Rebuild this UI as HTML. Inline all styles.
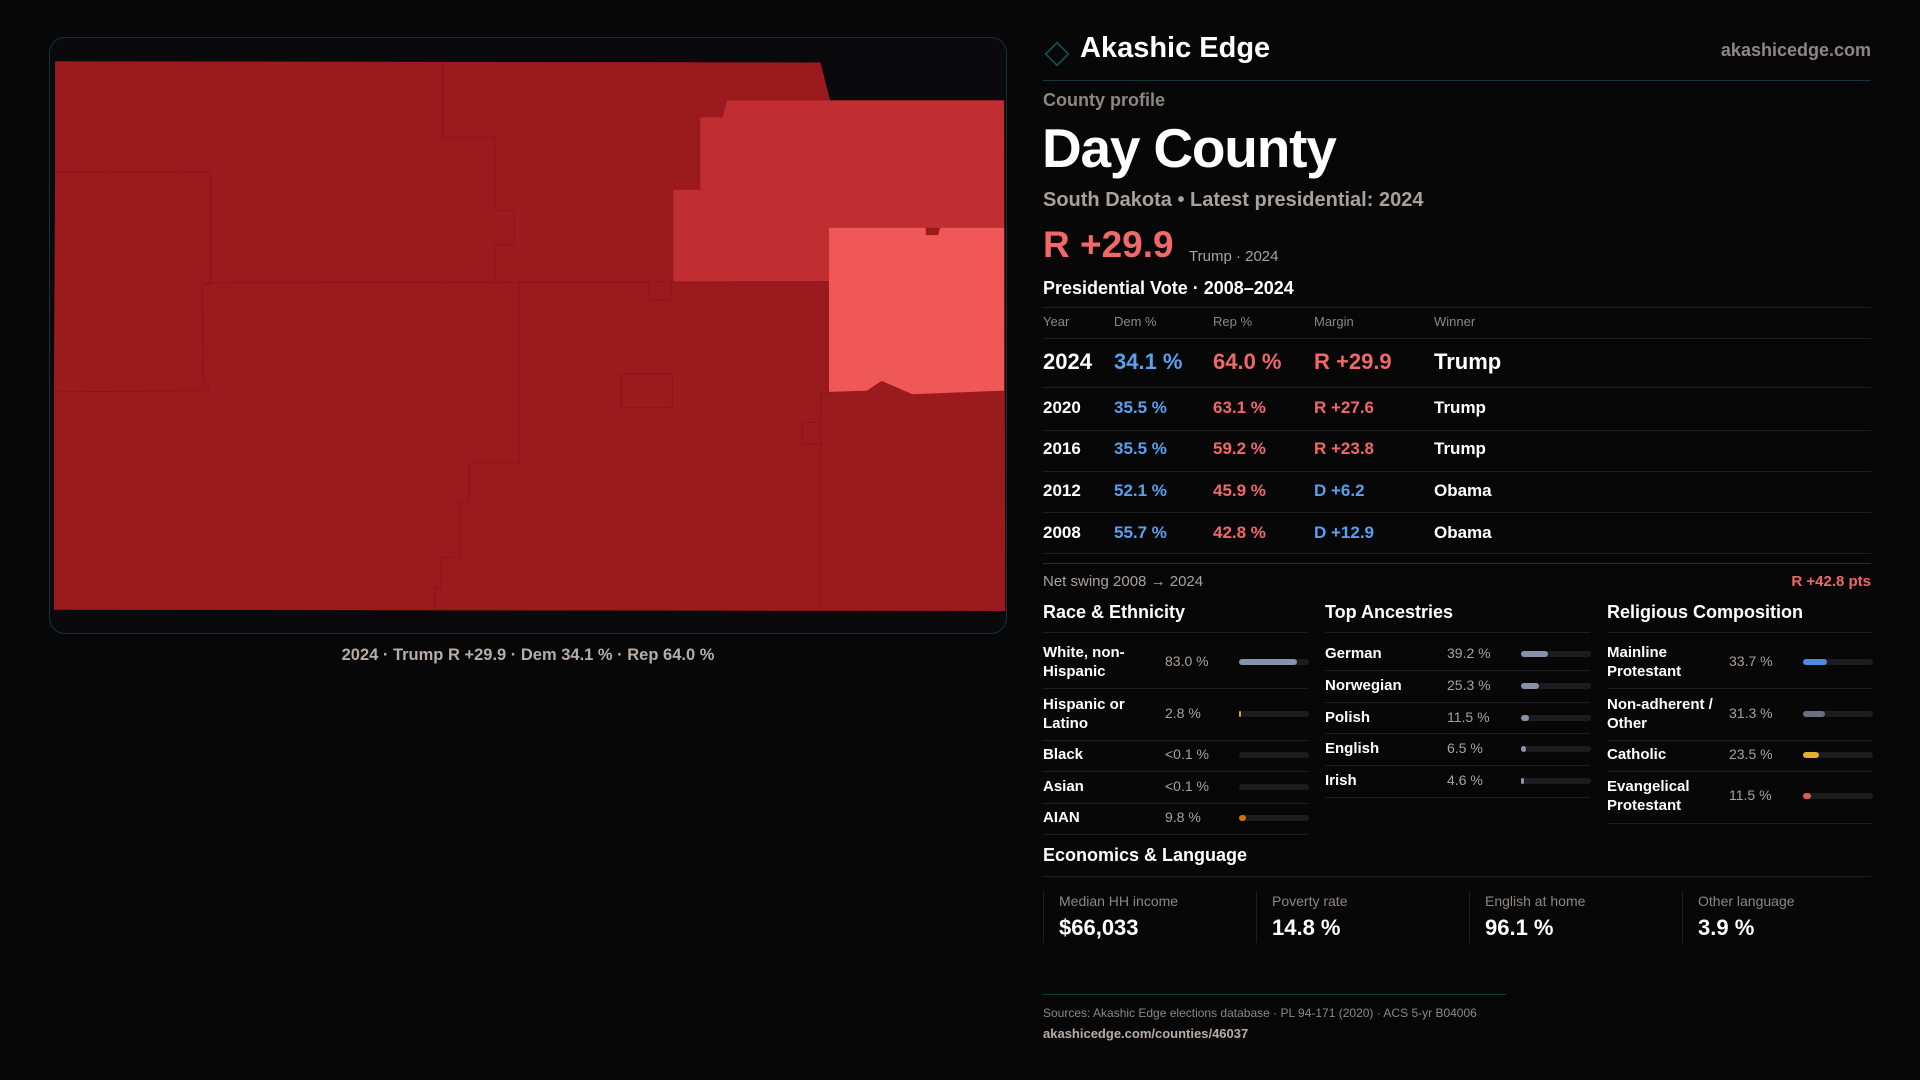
<!DOCTYPE html>
<html><head><meta charset="utf-8">
<style>
*{margin:0;padding:0;box-sizing:border-box}
body{width:1920px;height:1080px;background:#080708;font-family:"Liberation Sans",sans-serif;color:#fff;position:relative;overflow:hidden}
.a{position:absolute;white-space:nowrap}
.card{position:absolute;left:49px;top:37px;width:958px;height:597px;border:1px solid #143238;border-radius:16px;background:#0a0a0c}
.hl{position:absolute;height:1px;background:#1e1e20}
.gray{color:#8c8782}
.blue{color:#5aa0f0}
.red{color:#f06868}
.th{font-size:13px;color:#8c8782}
.yr{font-size:17px;font-weight:bold}
.sec{font-size:18px;font-weight:bold}
.lab{font-size:15px;font-weight:bold;line-height:19px}
.val{font-size:14px;color:#a8a29c}
.trk{position:absolute;height:6px;border-radius:3px;background:#1c1c1f}
.fill{position:absolute;left:0;top:0;height:6px;border-radius:3px}
.eb{position:absolute;top:891px;height:52px;border-left:1px solid #202022}
</style></head><body>
<div class="card"></div>
<svg class="a" style="left:0;top:0" width="1920" height="1080" viewBox="0 0 1568 882">
<polygon fill="#9a1a1e" points="45,50 670,51 678,82 820,82 821,499 44,498 44,320 45,140"/>
<polygon fill="#c02e31" points="572,96 590,96 594,82 820,82 820,186 677,186 677,230 550,230 550,155 572,155"/>
<polygon fill="#f05858" points="677,186 756,186 756,192 766,192 768,186 820,186 820,319 745,322 720,311 708,319 677,320"/>
<g fill="none" stroke="#80161a" stroke-width="0.6">
<polyline points="362,51 362,112 404,112 404,172 420,172 420,200 404,200 404,230"/>
<polyline points="45,140 172,141 172,232 165,232 166,310 172,319 45,320"/>
<polyline points="165,231 677,230"/>
<polyline points="424,231 424,378 383,378 383,410 376,410 376,455 360,455 360,480 355,480 355,498"/>
<polyline points="670,320 670,498"/>
<polyline points="677,320 670,325 670,345 655,345 655,363 672,363"/>
<rect x="507" y="305" width="42" height="28"/>
<polyline points="530,230 530,245 548,245 548,230"/>
</g>
</svg>
<div class="a" style="left:0;width:1056px;top:646px;text-align:center;font-size:16.5px;font-weight:bold;color:#b5ada6">2024 · Trump R +29.9 · Dem 34.1 % · Rep 64.0 %</div>

<div class="a" style="left:1046px;top:43px;width:22px;height:22px;border:2px solid #145058;transform:rotate(45deg) scale(.8)"></div>
<div class="a" style="left:1080px;top:32px;font-size:29px;font-weight:bold">Akashic Edge</div>
<div class="a" style="right:49px;top:40px;font-size:18px;font-weight:bold;color:#8c8782">akashicedge.com</div>
<div class="a" style="left:1043px;width:828px;top:80px;height:1px;background:#123a40"></div>
<div class="a gray" style="left:1043px;top:90px;font-size:18px;font-weight:bold">County profile</div>
<div class="a" style="left:1042px;top:116px;font-size:55px;font-weight:bold;letter-spacing:-1.2px">Day County</div>
<div class="a" style="left:1043px;top:189px;font-size:20px;font-weight:bold;color:#a8a29c">South Dakota • Latest presidential: 2024</div>
<div class="a red" style="left:1043px;top:224px;font-size:37px;font-weight:bold">R +29.9</div>
<div class="a" style="left:1189px;top:248px;font-size:15px;color:#a8a29c">Trump · 2024</div>
<div class="a" style="left:1043px;top:278px;font-size:18px;font-weight:bold">Presidential Vote · 2008–2024</div>
<div class="hl" style="left:1043px;width:828px;top:307px"></div>
<div class="a th" style="left:1043px;top:314px">Year</div><div class="a th" style="left:1114px;top:314px">Dem %</div><div class="a th" style="left:1213px;top:314px">Rep %</div><div class="a th" style="left:1314px;top:314px">Margin</div><div class="a th" style="left:1434px;top:314px">Winner</div>
<div class="hl" style="left:1043px;width:828px;top:338px"></div>
<div><div class="a" style="left:1043px;top:349px;font-size:22px;font-weight:bold">2024</div><div class="a blue" style="left:1114px;top:349px;font-size:22px;font-weight:bold">34.1 %</div><div class="a red" style="left:1213px;top:349px;font-size:22px;font-weight:bold">64.0 %</div><div class="a red" style="left:1314px;top:349px;font-size:22px;font-weight:bold">R +29.9</div><div class="a" style="left:1434px;top:349px;font-size:22px;font-weight:bold">Trump</div></div>
<div class="hl" style="left:1043px;width:828px;top:387px"></div>
<div><div class="a yr" style="left:1043px;top:398px">2020</div><div class="a yr blue" style="left:1114px;top:398px">35.5 %</div><div class="a yr red" style="left:1213px;top:398px">63.1 %</div><div class="a yr red" style="left:1314px;top:398px">R +27.6</div><div class="a yr" style="left:1434px;top:398px">Trump</div></div>
<div class="hl" style="left:1043px;width:828px;top:430px"></div>
<div><div class="a yr" style="left:1043px;top:439px">2016</div><div class="a yr blue" style="left:1114px;top:439px">35.5 %</div><div class="a yr red" style="left:1213px;top:439px">59.2 %</div><div class="a yr red" style="left:1314px;top:439px">R +23.8</div><div class="a yr" style="left:1434px;top:439px">Trump</div></div>
<div class="hl" style="left:1043px;width:828px;top:471px"></div>
<div><div class="a yr" style="left:1043px;top:481px">2012</div><div class="a yr blue" style="left:1114px;top:481px">52.1 %</div><div class="a yr red" style="left:1213px;top:481px">45.9 %</div><div class="a yr blue" style="left:1314px;top:481px">D +6.2</div><div class="a yr" style="left:1434px;top:481px">Obama</div></div>
<div class="hl" style="left:1043px;width:828px;top:512px"></div>
<div><div class="a yr" style="left:1043px;top:523px">2008</div><div class="a yr blue" style="left:1114px;top:523px">55.7 %</div><div class="a yr red" style="left:1213px;top:523px">42.8 %</div><div class="a yr blue" style="left:1314px;top:523px">D +12.9</div><div class="a yr" style="left:1434px;top:523px">Obama</div></div>
<div class="hl" style="left:1043px;width:828px;top:553px"></div>
<div class="hl" style="left:1043px;width:828px;top:563px;background:#2a2a2c"></div>
<div class="a" style="left:1043px;top:573px;font-size:15px;color:#a8a29c">Net swing 2008 → 2024</div>
<div class="a red" style="right:49px;top:573px;font-size:15px;font-weight:bold">R +42.8 pts</div>

<div class="a sec" style="left:1043px;top:602px">Race &amp; Ethnicity</div>
<div class="a sec" style="left:1325px;top:602px">Top Ancestries</div>
<div class="a sec" style="left:1607px;top:602px">Religious Composition</div>
<div id="demo"></div>

<div class="a sec" style="left:1043px;top:845px">Economics &amp; Language</div>
<div class="hl" style="left:1043px;width:828px;top:876px"></div>
<div class="eb" style="left:1043px"><div class="a" style="left:15px;top:2px;font-size:14px;color:#8c8782">Median HH income</div><div class="a" style="left:15px;top:24px;font-size:22px;font-weight:bold">$66,033</div></div>
<div class="eb" style="left:1256px"><div class="a" style="left:15px;top:2px;font-size:14px;color:#8c8782">Poverty rate</div><div class="a" style="left:15px;top:24px;font-size:22px;font-weight:bold">14.8 %</div></div>
<div class="eb" style="left:1469px"><div class="a" style="left:15px;top:2px;font-size:14px;color:#8c8782">English at home</div><div class="a" style="left:15px;top:24px;font-size:22px;font-weight:bold">96.1 %</div></div>
<div class="eb" style="left:1682px"><div class="a" style="left:15px;top:2px;font-size:14px;color:#8c8782">Other language</div><div class="a" style="left:15px;top:24px;font-size:22px;font-weight:bold">3.9 %</div></div>
<div class="a" style="left:1043px;width:463px;top:994px;height:1px;background:#123a40"></div>
<div class="a" style="left:1043px;top:1006px;font-size:12px;color:#8c8782">Sources: Akashic Edge elections database · PL 94-171 (2020) · ACS 5-yr B04006</div>
<div class="a" style="left:1043px;top:1026px;font-size:13px;font-weight:bold;color:#b5ada6">akashicedge.com/counties/46037</div>

<script>
const raceLabels=["White, non-<br>Hispanic","Hispanic or<br>Latino","Black","Asian","AIAN"];
const raceValues=[83.0,2.8,0.05,0.05,9.8];
const raceText=["83.0 %","2.8 %","<0.1 %","<0.1 %","9.8 %"];
const ancLabels=["German","Norwegian","Polish","English","Irish"];
const ancValues=[39.2,25.3,11.5,6.5,4.6];
const relLabels=["Mainline<br>Protestant","Non-adherent /<br>Other","Catholic","Evangelical<br>Protestant"];
const relValues=[33.7,31.3,23.5,11.5];
const raceColors=["#8593ab","#e8a020","#8593ab","#8593ab","#d07010"];
const ancColor="#8593ab";
const relColors=["#4a8ee0","#6a7080","#e0b030","#e05a5a"];
const root=document.getElementById('demo');
function fmt(v){return v.toFixed(1)+" %";}
function panel(x,labels,vals,texts,colors,centers,lines,max){
  labels.forEach((l,i)=>{
    const c=centers[i];
    const lab=document.createElement('div');lab.className='a lab';
    
    
    lab.innerHTML=l;root.appendChild(lab);
    const two=l.includes('<br>');
    lab.style.left=x+'px';lab.style.top=(c-(two?19:10))+'px';
    const v=document.createElement('div');v.className='a val';
    
    
    v.textContent=texts?texts[i]:fmt(vals[i]);v.style.left=(x+122)+'px';v.style.top=(c-9)+'px';root.appendChild(v);
    const t=document.createElement('div');t.className='trk';
    
    
    t.style.left=(x+196)+'px';t.style.width='70px';t.style.top=(c-3)+'px';root.appendChild(t);
    const f=document.createElement('div');f.className='fill';
    
    
    const w=Math.max(2,vals[i]/max*70);
    f.style.width=(vals[i]<0.5?0:w)+'px';f.style.background=Array.isArray(colors)?colors[i]:colors;t.appendChild(f);
  });
  [632].concat(lines).forEach(y=>{const h=document.createElement('div');h.className='hl';
    
    
    h.style.left=x+'px';h.style.width='265px';h.style.top=y+'px';root.appendChild(h);});
}
panel(1043,raceLabels,raceValues,raceText,raceColors,[662,714,755,787,818],[688,740,771,803,834],100);
panel(1325,ancLabels,ancValues,null,ancColor,[654,686,718,749,781],[670,702,733,765,797],100);
panel(1607,relLabels,relValues,null,relColors,[662,714,755,796],[688,740,771,823],100);
</script>
</body></html>
